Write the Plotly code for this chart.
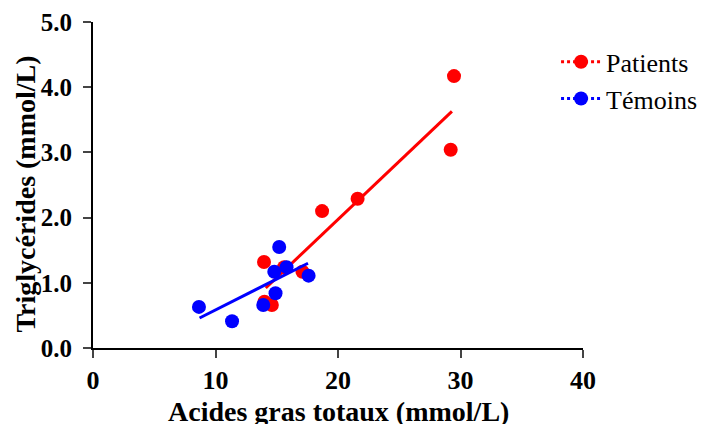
import plotly.graph_objects as go

# Data
patients_x = [29.47, 29.2, 21.6, 18.7, 13.96, 15.6, 17.1, 14.6, 14.0]
patients_y = [4.17, 3.04, 2.29, 2.10, 1.32, 1.24, 1.17, 0.66, 0.71]
temoins_x = [8.65, 11.35, 13.9, 14.9, 15.2, 14.8, 15.8, 17.6]
temoins_y = [0.63, 0.41, 0.66, 0.84, 1.55, 1.17, 1.24, 1.11]

# regression line endpoints
patients_fit_x = [14.1, 29.3]
patients_fit_y = [0.92, 3.63]
temoins_fit_x = [8.7, 17.55]
temoins_fit_y = [0.46, 1.30]

x_ticks = [0, 10, 20, 30, 40]
x_tick_labels = ["0", "10", "20", "30", "40"]
y_ticks = [0, 1, 2, 3, 4, 5]
y_tick_labels = ["0.0", "1.0", "2.0", "3.0", "4.0", "5.0"]
x_title = "Acides gras totaux (mmol/L)"
y_title = "Triglycérides (mmol/L)"

RED = "#FF0000"
BLUE = "#0000FF"
FONT = "Liberation Serif"

fig = go.Figure()

fig.add_trace(go.Scatter(x=patients_x, y=patients_y, mode="markers",
                         marker=dict(color=RED, size=14), showlegend=False,
                         legendgroup="p", cliponaxis=False))
fig.add_trace(go.Scatter(x=patients_fit_x, y=patients_fit_y, mode="lines",
                         line=dict(color=RED, width=3), showlegend=False, legendgroup="p"))
fig.add_trace(go.Scatter(x=temoins_x, y=temoins_y, mode="markers",
                         marker=dict(color=BLUE, size=14), showlegend=False,
                         legendgroup="t", cliponaxis=False))
fig.add_trace(go.Scatter(x=temoins_fit_x, y=temoins_fit_y, mode="lines",
                         line=dict(color=BLUE, width=3), showlegend=False, legendgroup="t"))

# legend entries
fig.add_trace(go.Scatter(x=[None], y=[None], mode="lines+markers", name="Patients",
                         marker=dict(color=RED, size=14),
                         line=dict(color=RED, width=3, dash="dot"), legendgroup="p"))
fig.add_trace(go.Scatter(x=[None], y=[None], mode="lines+markers", name="Témoins",
                         marker=dict(color=BLUE, size=14),
                         line=dict(color=BLUE, width=3, dash="dot"), legendgroup="t"))

fig.update_layout(
    width=704, height=424,
    margin=dict(l=93, r=121, t=22, b=76, autoexpand=False),
    plot_bgcolor="white", paper_bgcolor="white",
    font=dict(family=FONT, color="black"),
    legend=dict(x=0.945, y=0.95, xanchor="left", yanchor="top",
                font=dict(family=FONT, size=26, color="black"),
                bgcolor="rgba(0,0,0,0)", itemwidth=40, tracegroupgap=0),
    xaxis=dict(range=[0, 40], tickvals=x_ticks,
               ticktext=["<b>%s</b>" % t for t in x_tick_labels],
               ticks="outside", ticklen=8, tickwidth=2, automargin=False,
               ticklabelstandoff=0,
               showline=True, linewidth=2, linecolor="black", showgrid=False, zeroline=False,
               tickfont=dict(family=FONT, size=26, color="black")),
    yaxis=dict(range=[0, 5], tickvals=y_ticks,
               ticktext=["<b>%s</b>" % t for t in y_tick_labels],
               ticks="outside", ticklen=8, tickwidth=2, automargin=False,
               ticklabelstandoff=6,
               showline=True, linewidth=2, linecolor="black", showgrid=False, zeroline=False,
               tickfont=dict(family=FONT, size=25, color="black")),
    annotations=[
        dict(text="<b>%s</b>" % x_title, xref="paper", yref="paper", x=0.5, y=-0.196,
             xanchor="center", yanchor="middle", showarrow=False,
             font=dict(family=FONT, size=28, color="black")),
        dict(text="<b>%s</b>" % y_title, xref="paper", yref="paper", x=-0.138, y=0.472,
             xanchor="center", yanchor="middle", showarrow=False, textangle=-90,
             font=dict(family=FONT, size=28, color="black")),
    ],
)

fig.write_html("out.html", config={"displayModeBar": False},
               post_script="document.body.style.margin='0';document.body.style.overflow='hidden';")
